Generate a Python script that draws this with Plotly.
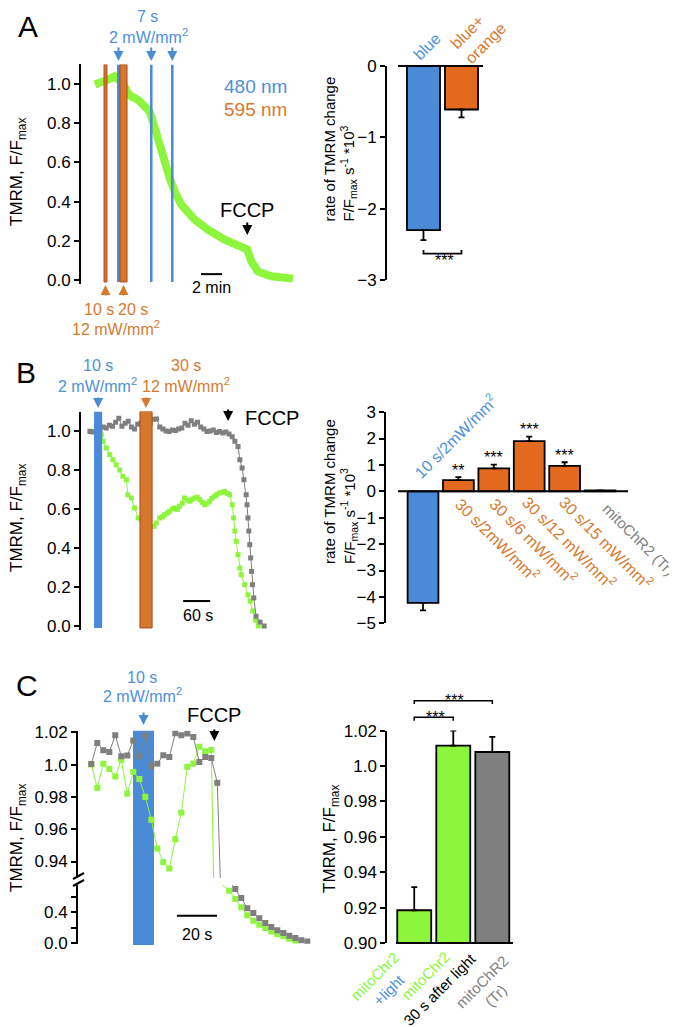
import plotly.graph_objects as go

W, H = 677, 1027
FONT = "Liberation Sans, Arial, Helvetica, sans-serif"

GREEN = "#8cf53c"
BLUE = "#4a8ad6"
BLUE_TXT = "#4d90da"
ORANGE_BAR = "#e2691e"
ORANGE_STIM = "#d5772c"
ORANGE_EDGE = "#b04a1c"
ORANGE_TXT = "#d67a30"
GRAY = "#7f7f7f"

# ======================= DATA =======================
# ---- Panel A, trace (time in min, TMRM F/Fmax)
A_time_min = [0, 0.6, 1.24, 1.87, 2.7, 3.14, 3.46, 4.1, 4.73, 5.2, 5.69, 6.31, 6.79,
              7.11, 7.59, 8.22, 9.49, 10.76, 12.35, 13.93, 14.5, 14.89, 15.52, 16.79, 18.86]
A_tmrm = [0.997, 1.005, 1.022, 1.039, 1.0, 0.954, 0.937, 0.92, 0.886, 0.86, 0.776, 0.656, 0.571,
          0.52, 0.452, 0.384, 0.308, 0.257, 0.206, 0.172, 0.156, 0.095, 0.044, 0.019, 0.007]
A_stim_start_min = [0.86, 2.10, 2.38, 5.24, 7.24]
A_stim_end_min = [1.14, 2.38, 3.05, 5.48, 7.48]
A_stim_light = ["orange", "blue", "orange", "blue", "blue"]
A_fccp_min = 14.5
A_scalebar_min = [10.1, 12.1]

# ---- Panel A, bars
A_groups = ["blue", "blue+<br>orange"]
A_rate = [-2.30, -0.61]
A_rate_sem = [0.14, 0.11]

# ---- Panel B, traces (time in s)
B_gray_t = [0, 7, 14, 22, 29, 36, 43, 50, 57, 64, 71, 78, 85, 92, 99, 106, 113, 120, 127, 134,
            141, 148, 155, 162, 169, 176, 183, 190, 197, 204, 211, 218, 225, 232, 239, 246, 253,
            260, 267, 274, 281, 288, 295, 302, 309, 316, 322, 329, 333, 338, 342, 347, 349, 351,
            353, 355, 357, 359, 361, 364, 369, 378, 387]
B_gray = [0.998, 0.995, 1.0, 1.005, 1.02, 1.015, 1.03, 1.025, 1.045, 1.065, 1.025, 1.04, 1.05,
          1.02, 1.01, 1.035, 1.04, 1.04, 1.04, 1.04, 1.06, 1.062, 1.02, 1.01, 1.0, 0.998, 1.005,
          1.003, 1.01, 1.015, 1.04, 1.03, 1.052, 1.035, 1.045, 1.02, 1.01, 0.998, 1.0, 1.005,
          0.992, 0.998, 0.99, 0.995, 0.985, 0.97, 0.947, 0.92, 0.853, 0.81, 0.75, 0.673, 0.622,
          0.554, 0.487, 0.417, 0.349, 0.28, 0.212, 0.144, 0.05, 0.02, 0.0]
B_green_t = [0, 7, 14, 22, 25, 29, 36, 44, 51, 58, 66, 73, 81, 84, 92, 99, 107, 114, 142, 147,
             155, 161, 166, 172, 177, 183, 188, 194, 199, 205, 210, 216, 222, 227, 233, 238, 244,
             249, 255, 260, 266, 271, 277, 282, 288, 294, 299, 305, 310, 316, 319, 322, 325, 329,
             333, 336, 344, 351, 356, 362, 368, 374]
B_green = [1.0, 0.998, 1.0, 0.99, 0.981, 0.947, 0.913, 0.879, 0.853, 0.827, 0.80, 0.768, 0.75,
           0.673, 0.656, 0.605, 0.554, 0.545, 0.511, 0.528, 0.554, 0.56, 0.571, 0.58, 0.588, 0.60,
           0.605, 0.598, 0.614, 0.63, 0.656, 0.645, 0.64, 0.65, 0.656, 0.66, 0.648, 0.635, 0.622,
           0.63, 0.64, 0.655, 0.665, 0.675, 0.682, 0.686, 0.69, 0.68, 0.673, 0.622, 0.554, 0.487,
           0.434, 0.366, 0.297, 0.263, 0.212, 0.16, 0.128, 0.077, 0.03, 0.0]
B_stim_start_s = [9, 111]
B_stim_end_s = [27, 138]
B_stim_light = ["blue", "orange"]
B_fccp_s = 307
B_scalebar_s = [207, 267]

# ---- Panel B, bars
B_groups = ["10 s/2mW/mm<sup>2</sup>", "30 s/2mW/mm<sup>2</sup>", "30 s/6 mW/mm<sup>2</sup>",
            "30 s/12 mW/mm<sup>2</sup>", "30 s/15 mW/mm<sup>2</sup>", "mitoChR2 (Tr)"]
B_rate = [-4.23, 0.42, 0.87, 1.90, 0.96, 0.03]
B_rate_sem = [0.28, 0.12, 0.14, 0.17, 0.14, 0.0]
B_signif = ["", "**", "***", "***", "***", ""]
B_bar_colors = [BLUE, ORANGE_BAR, ORANGE_BAR, ORANGE_BAR, ORANGE_BAR, GRAY]

# ---- Panel C, traces (time in s)
C_gray_t = [0, 3, 6, 9, 12, 15, 18, 21, 24, 27, 30, 33, 36, 39, 42, 45, 48, 51, 54, 57, 60, 63,
            66, 69, 72, 75, 78, 81, 84, 87, 90, 93, 96, 99, 102, 105, 108]
C_gray = [1.0004, 1.0134, 1.0089, 1.0078, 1.0181, 1.0052, 1.0056, 1.015, 1.0052, 1.0181, 0.999,
          1.0006, 1.0058, 1.0047, 1.0194, 1.0181, 1.0192, 1.0171, 1.0016, 1.0047, 1.0041, 0.9887,
          0.87, 0.80, 0.697, 0.58, 0.45, 0.387, 0.32, 0.258, 0.206, 0.163, 0.129, 0.095, 0.065,
          0.034, 0.021]
C_green_t = [0, 3, 6, 9, 12, 15, 18, 21, 24, 27, 30, 33, 36, 39, 42, 45, 48, 51, 54, 57, 60, 63,
             69, 72, 75, 78, 81, 84, 87, 90, 93, 96, 99, 102]
C_green = [1.0, 0.9856, 1.0006, 0.9973, 0.9926, 1.003, 0.982, 0.9955, 0.9911, 0.98, 0.9658,
           0.948, 0.9396, 0.9357, 0.9538, 0.9703, 0.9986, 1.0006, 1.011, 1.0082, 1.009, 0.80,
           0.675, 0.568, 0.46, 0.357, 0.288, 0.237, 0.194, 0.15, 0.116, 0.086, 0.056, 0.03]
C_stim_start_s = 20.85
C_stim_end_s = 31.35
C_fccp_s = 61.5
C_scalebar_s = [42.85, 62.85]

# ---- Panel C, bars
C_groups = ["<span style='color:#8cf53c'>mitoChr2</span><br><span style='color:#4d90da'>+light</span>",
            "<span style='color:#8cf53c'>mitoChr2</span><br><span style='color:#000000'>30 s after light</span>",
            "<span style='color:#808080'>mitoChR2<br>(Tr)</span>"]
C_tmrm = [0.9185, 1.0115, 1.0079]
C_tmrm_sem = [0.0131, 0.0085, 0.0085]
C_bar_colors = [GREEN, GREEN, GRAY]


# ======================= helpers =======================
def X(px):
    return px / W


def Y(py):
    return 1 - py / H


def lin(v, v0, p0, v1, p1):
    return p0 + (v - v0) * (p1 - p0) / (v1 - v0)


def txt(text, px, py, size=16, color="black", angle=0, xanchor="center", yanchor="middle",
        align="center"):
    return dict(text=text, x=X(px), y=Y(py), xref="paper", yref="paper", showarrow=False,
                font=dict(family=FONT, size=size, color=color), textangle=angle,
                xanchor=xanchor, yanchor=yanchor, align=align)


def arrow(x, xref, py_tip, length, color):
    return dict(text="", x=x, xref=xref, y=Y(py_tip), yref="paper", ax=0, ay=length,
                showarrow=True, arrowhead=2, arrowsize=1, arrowwidth=2, arrowcolor=color,
                standoff=0)


yax_style = dict(showgrid=False, zeroline=False, showline=True, linecolor="black", linewidth=2,
                 ticks="outside", ticklen=5, tickwidth=2, tickcolor="black",
                 tickfont=dict(family=FONT, size=17, color="black"), automargin=False)
xax_style = dict(visible=False, showgrid=False, zeroline=False, automargin=False)

fig = go.Figure()
shapes = []
ann = []

# ======================= Panel A left =======================
A_py = lambda v: lin(v, 0, 272, 1, 76)
A_px = lambda t: 87 + 10.5 * t
fig.add_trace(go.Scatter(x=A_time_min, y=A_tmrm, mode="lines", line=dict(color=GREEN, width=8),
                         xaxis="x", yaxis="y", showlegend=False, hoverinfo="skip"))
for s, e, k in zip(A_stim_start_min, A_stim_end_min, A_stim_light):
    if k == "blue":
        shapes.append(dict(type="rect", xref="x", yref="y", x0=s, x1=e, y0=-0.01, y1=1.1,
                           fillcolor=BLUE, line=dict(width=0)))
    else:
        shapes.append(dict(type="rect", xref="x", yref="y", x0=s, x1=e, y0=-0.01, y1=1.1,
                           fillcolor=ORANGE_STIM, line=dict(color=ORANGE_EDGE, width=1)))
for s, e, k in zip(A_stim_start_min, A_stim_end_min, A_stim_light):
    c = (s + e) / 2
    if k == "blue":
        ann.append(arrow(c, "x", 53, -15, BLUE))
    else:
        ann.append(arrow(c, "x", 277, 12, ORANGE_TXT))
shapes.append(dict(type="line", xref="x", yref="y", x0=A_scalebar_min[0], x1=A_scalebar_min[1],
                   y0=0.03, y1=0.03, line=dict(color="black", width=2)))
ann.append(txt("2 min", A_px(sum(A_scalebar_min) / 2), 279, 16))
ann.append(arrow(A_fccp_min, "x", 227, -14, "black"))
ann.append(txt("FCCP", A_px(A_fccp_min), 202, 20))
ann.append(txt("7 s", 139, 8, 16, BLUE_TXT))
ann.append(txt("2 mW/mm<sup>2</sup>", 140, 28, 16, BLUE_TXT))
ann.append(txt("480 nm", 248, 79, 19, BLUE_TXT))
ann.append(txt("595 nm", 248, 101, 19, ORANGE_TXT))
ann.append(txt("10 s", 91, 302, 16, ORANGE_TXT))
ann.append(txt("20 s", 125, 302, 16, ORANGE_TXT))
ann.append(txt("12 mW/mm<sup>2</sup>", 108, 320, 16, ORANGE_TXT))
ann.append(txt("TMRM, F/F<sub>max</sub>", 10, 164, 17, angle=-90))
ann.append(txt("A", 20, 19, 30))

fig.update_layout(
    xaxis=dict(**xax_style, domain=[X(73), X(290)], range=[(73 - 87) / 10.5, (290 - 87) / 10.5],
               anchor="y"),
    yaxis=dict(**yax_style, domain=[Y(A_py(-0.02)), Y(A_py(1.1))], range=[-0.02, 1.1],
               tickvals=[0, 0.2, 0.4, 0.6, 0.8, 1.0], tickformat=".1f", anchor="x"),
)

# ======================= Panel A right =======================
A2_py = lambda v: lin(v, 0, 58, -3, 272)
fig.add_trace(go.Bar(x=[0, 1], y=A_rate, marker=dict(color=[BLUE, ORANGE_BAR],
                                                     line=dict(color="black", width=1.8)),
                     error_y=dict(type="data", symmetric=False, array=[0, 0], arrayminus=A_rate_sem,
                                  color="black", thickness=1.8, width=3),
                     xaxis="x2", yaxis="y2", showlegend=False, hoverinfo="skip"))
shapes.append(dict(type="line", xref="paper", yref="paper", x0=X(390), x1=X(475),
                   y0=Y(A2_py(0)), y1=Y(A2_py(0)), line=dict(color="black", width=2)))
shapes.append(dict(type="path", xref="x2", yref="y2",
                   path="M 0,-2.58 L 0,-2.63 L 1,-2.63 L 1,-2.58",
                   line=dict(color="black", width=1.8)))
ann.append(txt("***", 436, 252, 16))
ann.append(txt(A_groups[0], 419, 38.5, 16, BLUE_TXT, angle=-45))
ann.append(txt(A_groups[1], 470, 27.5, 16, ORANGE_TXT, angle=-45, align="left"))
ann.append(txt("rate of TMRM change<br>F/F<sub>max</sub> s<sup>-1</sup> *10<sup>3</sup>",
               332, 141.5, 15, angle=-90, align="left"))
fig.update_layout(
    xaxis2=dict(**xax_style, domain=[X(379), X(475)], range=[-0.96, 1.566], anchor="y2"),
    yaxis2=dict(**yax_style, domain=[Y(272), Y(58)], range=[-3, 0], tickvals=[0, -1, -2, -3],
                anchor="x2"),
    bargap=0.13,
)

# ======================= Panel B left =======================
B_py = lambda v: lin(v, 0, 618, 1, 423)
B_px = lambda t: 82 + 0.45 * t
fig.add_trace(go.Scatter(x=B_green_t, y=B_green, mode="lines+markers",
                         line=dict(color=GREEN, width=1),
                         marker=dict(symbol="square", size=5, color=GREEN),
                         xaxis="x3", yaxis="y3", showlegend=False, hoverinfo="skip"))
fig.add_trace(go.Scatter(x=B_gray_t, y=B_gray, mode="lines+markers",
                         line=dict(color=GRAY, width=1),
                         marker=dict(symbol="square", size=5, color=GRAY),
                         xaxis="x3", yaxis="y3", showlegend=False, hoverinfo="skip"))
for s, e, k in zip(B_stim_start_s, B_stim_end_s, B_stim_light):
    if k == "blue":
        shapes.append(dict(type="rect", xref="x3", yref="y3", x0=s, x1=e, y0=-0.01, y1=1.1,
                           fillcolor=BLUE, line=dict(width=0)))
        ann.append(arrow((s + e) / 2, "x3", 400, -12, BLUE))
    else:
        shapes.append(dict(type="rect", xref="x3", yref="y3", x0=s, x1=e, y0=-0.01, y1=1.1,
                           fillcolor=ORANGE_STIM, line=dict(color=ORANGE_EDGE, width=1)))
        ann.append(arrow((s + e) / 2, "x3", 400, -12, ORANGE_TXT))
shapes.append(dict(type="line", xref="x3", yref="y3", x0=B_scalebar_s[0], x1=B_scalebar_s[1],
                   y0=0.128, y1=0.128, line=dict(color="black", width=2)))
ann.append(txt("60 s", B_px(sum(B_scalebar_s) / 2) + 1, 607, 16))
ann.append(arrow(B_fccp_s, "x3", 413, -13, "black"))
ann.append(txt("FCCP", 235, 410, 20, xanchor="left"))
ann.append(txt("10 s", 90, 357, 16, BLUE_TXT))
ann.append(txt("2 mW/mm<sup>2</sup>", 89, 377, 16, BLUE_TXT))
ann.append(txt("30 s", 178, 357, 16, ORANGE_TXT))
ann.append(txt("12 mW/mm<sup>2</sup>", 178, 377, 16, ORANGE_TXT))
ann.append(txt("TMRM, F/F<sub>max</sub>", 10, 510, 17, angle=-90))
ann.append(txt("B", 18, 364, 30))
fig.update_layout(
    xaxis3=dict(**xax_style, domain=[X(73), X(300)], range=[(73 - 82) / 0.45, (300 - 82) / 0.45],
                anchor="y3"),
    yaxis3=dict(**yax_style, domain=[Y(B_py(-0.02)), Y(B_py(1.1))], range=[-0.02, 1.1],
                tickvals=[0, 0.2, 0.4, 0.6, 0.8, 1.0], tickformat=".1f", anchor="x3"),
)

# ======================= Panel B right =======================
B2_py = lambda v: lin(v, 0, 483.3, 1, 456.9)
plus = [e if v > 0 else 0 for v, e in zip(B_rate, B_rate_sem)]
minus = [e if v < 0 else 0 for v, e in zip(B_rate, B_rate_sem)]
fig.add_trace(go.Bar(x=list(range(len(B_rate))), y=B_rate,
                     marker=dict(color=B_bar_colors, line=dict(color="black", width=1.8)),
                     error_y=dict(type="data", symmetric=False, array=plus, arrayminus=minus,
                                  color="black", thickness=1.8, width=3),
                     xaxis="x4", yaxis="y4", showlegend=False, hoverinfo="skip"))
shapes.append(dict(type="line", xref="paper", yref="paper", x0=X(390), x1=X(620),
                   y0=Y(B2_py(0)), y1=Y(B2_py(0)), line=dict(color="black", width=2)))
for i, (v, e, s) in enumerate(zip(B_rate, B_rate_sem, B_signif)):
    if s:
        ann.append(dict(text=s, x=i, y=v + e, xref="x4", yref="y4", showarrow=False,
                        yanchor="middle", yshift=7, font=dict(family=FONT, size=16, color="black")))
ann.append(txt(B_groups[0], 447.5, 428.3, 16, BLUE_TXT, angle=-45))
B_lab_centers = [(489, 531), (526, 532.5), (561, 534), (598, 534), (631, 531)]
B_lab_sizes = [16, 16, 16, 16, 15]
for g, (cx, cy), col, fs in zip(B_groups[1:], B_lab_centers, [ORANGE_TXT] * 4 + [GRAY],
                                B_lab_sizes):
    ann.append(txt(g, cx, cy, fs, col, angle=45))
ann.append(txt("rate of TMRM change<br>F/F<sub>max</sub> s<sup>-1</sup> *10<sup>3</sup>",
               332, 484, 15, angle=-90, align="left"))
fig.update_layout(
    xaxis4=dict(**xax_style, domain=[X(378.3), X(620)], range=[-1.037, 5.79], anchor="y4"),
    yaxis4=dict(**yax_style, domain=[Y(B2_py(-5)), Y(B2_py(3))], range=[-5, 3],
                tickvals=list(range(-5, 4)), anchor="x4"),
)

# ======================= Panel C left =======================
Cu_py = lambda v: lin(v, 1.02, 724.3, 1.0, 756.6)
Cl_py = lambda v: lin(v, 0, 935, 0.4, 904)
C_px = lambda t: 83.3 + 2 * t
for yax in ["y5", "y7"]:
    fig.add_trace(go.Scatter(x=C_green_t, y=C_green, mode="lines+markers",
                             line=dict(color=GREEN, width=1),
                             marker=dict(symbol="square", size=6, color=GREEN),
                             xaxis="x5", yaxis=yax, showlegend=False, hoverinfo="skip"))
    fig.add_trace(go.Scatter(x=C_gray_t, y=C_gray, mode="lines+markers",
                             line=dict(color=GRAY, width=1),
                             marker=dict(symbol="square", size=6, color=GRAY),
                             xaxis="x5", yaxis=yax, showlegend=False, hoverinfo="skip"))
shapes.append(dict(type="rect", xref="x5", yref="paper", x0=C_stim_start_s, x1=C_stim_end_s,
                   y0=Y(937), y1=Y(Cu_py(1.021)), fillcolor=BLUE, line=dict(width=0),
                   layer="below"))
ann.append(arrow((C_stim_start_s + C_stim_end_s) / 2, "x5", 717, -14, BLUE))
ann.append(txt("10 s", 134, 669, 16, BLUE_TXT))
ann.append(txt("2 mW/mm<sup>2</sup>", 134.5, 687, 16, BLUE_TXT))
ann.append(arrow(C_fccp_s, "x5", 733, -13, "black"))
ann.append(txt("FCCP", 206, 707, 20))
shapes.append(dict(type="line", xref="x5", yref="y7", x0=C_scalebar_s[0], x1=C_scalebar_s[1],
                   y0=0.352, y1=0.352, line=dict(color="black", width=2)))
ann.append(txt("20 s", C_px(sum(C_scalebar_s) / 2), 926, 16))
for dy in (0, 7):
    shapes.append(dict(type="line", xref="paper", yref="paper", x0=X(65), x1=X(76),
                       y0=Y(871 + dy), y1=Y(865 + dy), line=dict(color="black", width=2)))
ann.append(txt("TMRM, F/F<sub>max</sub>", 10, 830, 17, angle=-90))
ann.append(txt("C", 19, 677, 30))
fig.update_layout(
    xaxis5=dict(**xax_style, domain=[X(70), X(305)], range=[(70 - 83.3) / 2, (305 - 83.3) / 2],
                anchor="y7"),
    yaxis5=dict(**yax_style, domain=[Y(Cu_py(0.9298)), Y(Cu_py(1.021))], range=[0.9298, 1.021],
                tickvals=[0.94, 0.96, 0.98, 1.0, 1.02],
                ticktext=["0.94", "0.96", "0.98", "1.0", "1.02"], anchor="x5"),
    yaxis7=dict(**yax_style, domain=[Y(Cl_py(-0.01)), Y(Cl_py(0.75))], range=[-0.01, 0.75],
                tickvals=[0, 0.2, 0.4, 0.6], ticktext=["0.0", "", "0.4", ""], anchor="x5"),
)

# ======================= Panel C right =======================
C2_py = lambda v: lin(v, 0.9, 935, 1.02, 722.6)
fig.add_trace(go.Bar(x=[0, 1, 2], y=C_tmrm,
                     marker=dict(color=C_bar_colors, line=dict(color="black", width=1.8)),
                     error_y=dict(type="data", symmetric=False, array=C_tmrm_sem,
                                  arrayminus=[0, 0, 0], color="black", thickness=1.8, width=3),
                     xaxis="x6", yaxis="y6", showlegend=False, hoverinfo="skip"))
shapes.append(dict(type="line", xref="paper", yref="paper", x0=X(388), x1=X(505),
                   y0=Y(C2_py(0.9)), y1=Y(C2_py(0.9)), line=dict(color="black", width=2)))
shapes.append(dict(type="path", xref="x6", yref="paper",
                   path=f"M 0,{Y(712.7)} L 0,{Y(709.3)} L 1,{Y(709.3)} L 1,{Y(712.7)}",
                   line=dict(color="black", width=1.5)))
shapes.append(dict(type="path", xref="x6", yref="paper",
                   path=f"M 0,{Y(696)} L 0,{Y(692.7)} L 2,{Y(692.7)} L 2,{Y(696)}",
                   line=dict(color="black", width=1.5)))
ann.append(txt("***", 427, 709, 16))
ann.append(txt("***", 446.5, 692.5, 16))
C_lab_centers = [(373.5, 975), (424.7, 974), (481, 980)]
for g, (cx, cy) in zip(C_groups, C_lab_centers):
    ann.append(txt(g, cx, cy, 15, angle=-45))
ann.append(txt("TMRM, F/F<sub>max</sub>", 323, 831, 17, angle=-90))
fig.update_layout(
    xaxis6=dict(**xax_style, domain=[X(379.3), X(505)], range=[-0.69, 2.53], anchor="y6"),
    yaxis6=dict(**yax_style, domain=[Y(C2_py(0.9)), Y(C2_py(1.02))], range=[0.9, 1.02],
                tickvals=[0.90, 0.92, 0.94, 0.96, 0.98, 1.0, 1.02],
                ticktext=["0.90", "0.92", "0.94", "0.96", "0.98", "1.0", "1.02"], anchor="x6"),
)

fig.update_layout(width=W, height=H, margin=dict(l=0, r=0, t=0, b=0), paper_bgcolor="white",
                  plot_bgcolor="rgba(0,0,0,0)", shapes=shapes, annotations=ann,
                  font=dict(family=FONT, color="black"), showlegend=False)

fig.write_html("out.html")
